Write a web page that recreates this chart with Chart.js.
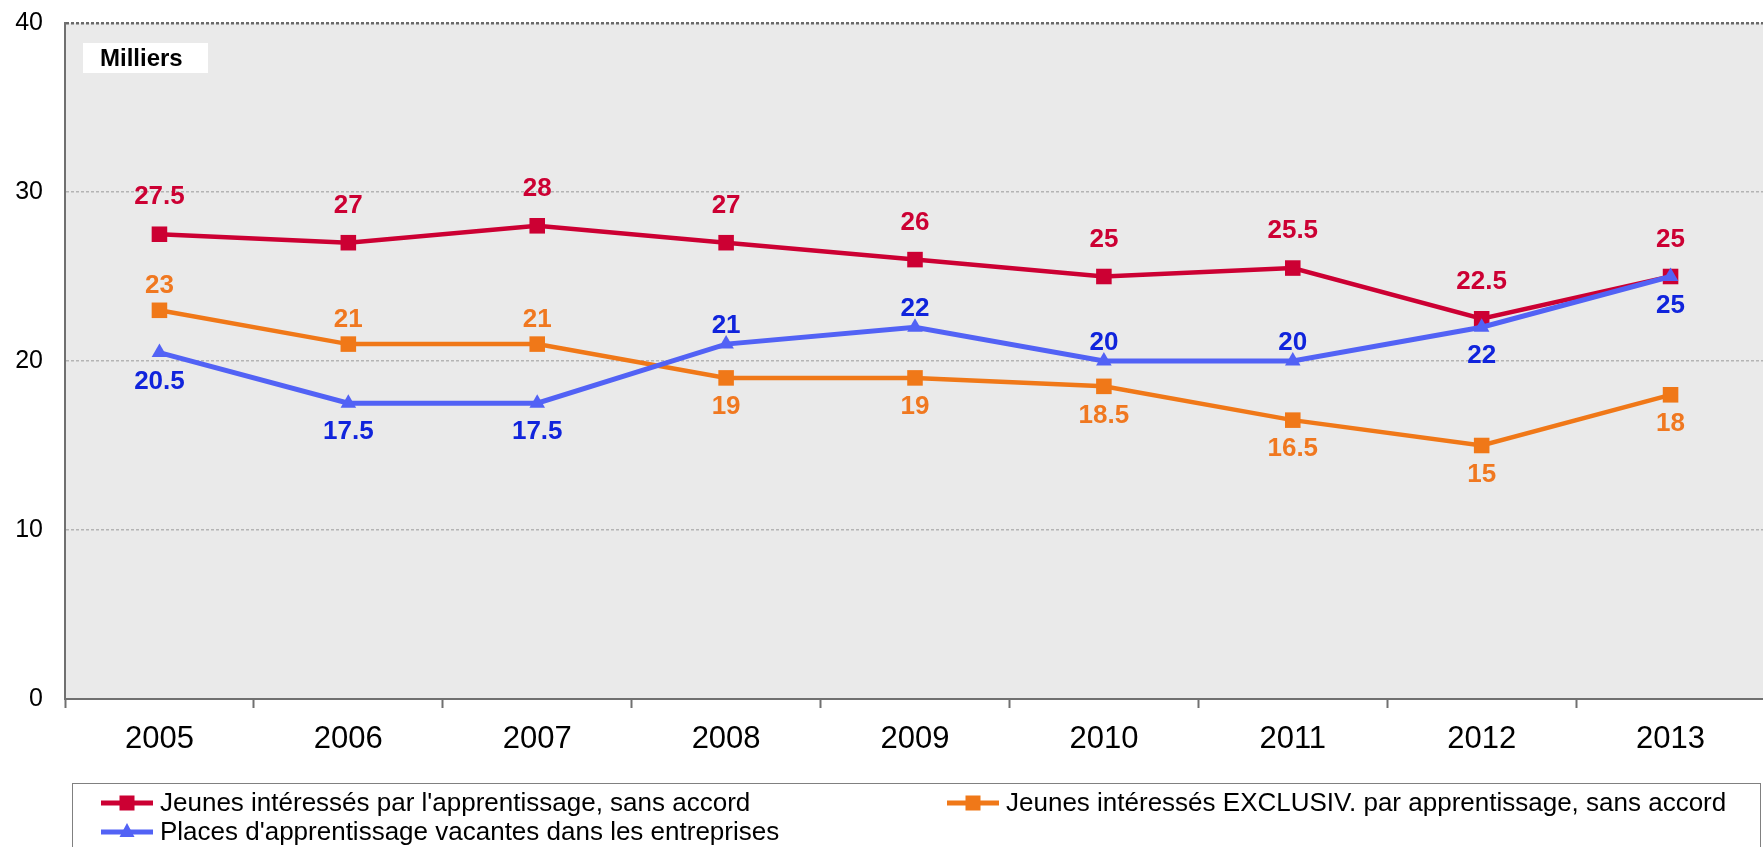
<!DOCTYPE html>
<html>
<head>
<meta charset="utf-8">
<script src="https://cdn.jsdelivr.net/npm/chart.js@4/dist/chart.umd.min.js"></script>
<style>
  html, body { margin: 0; padding: 0; background: #ffffff; width: 1763px; height: 847px; overflow: hidden; }
  #wrap { width: 1776px; height: 847px; }
</style>
</head>
<body>
<div id="wrap"><canvas id="c" width="1776" height="847"></canvas></div>
<script>
// ---- data ----
const years = ['2005', '2006', '2007', '2008', '2009', '2010', '2011', '2012', '2013'];
const jeunesSansAccord = [27.5, 27, 28, 27, 26, 25, 25.5, 22.5, 25];
const jeunesExclusivSansAccord = [23, 21, 21, 19, 19, 18.5, 16.5, 15, 18];
const placesVacantes = [20.5, 17.5, 17.5, 21, 22, 20, 20, 22, 25];
const yTicks = [0, 10, 20, 30, 40];
const unitLabel = 'Milliers';
const seriesNames = [
  "Jeunes intéressés par l'apprentissage, sans accord",
  "Jeunes intéressés EXCLUSIV. par apprentissage, sans accord",
  "Places d'apprentissage vacantes dans les entreprises"
];
// label placement (above / below the point)
const redPlace = ['a','a','a','a','a','a','a','a','a'];
const orangePlace = ['a','a','a','b','b','b','b','b','b'];
const bluePlace = ['b','b','b','a','a','a','a','b','b'];

const FONT = '"Liberation Sans", Arial, sans-serif';
const RED = '#CC0033', ORANGE = '#F07818', BLUE = '#5262F5';
const RED_T = '#CC0033', ORANGE_T = '#F07820', BLUE_T = '#1024DC';

const bgPlugin = {
  id: 'bg',
  beforeDraw(chart) {
    const {ctx, chartArea: a} = chart;
    ctx.save();
    ctx.fillStyle = '#EAEAEA';
    ctx.fillRect(a.left, a.top, a.right - a.left, a.bottom - a.top);
    ctx.restore();
  }
};

const labelPlugin = {
  id: 'vlabels',
  afterDatasetsDraw(chart) {
    const {ctx} = chart;
    ctx.save();
    ctx.font = 'bold 26px ' + FONT;
    ctx.textAlign = 'center';
    ctx.textBaseline = 'middle';
    chart.data.datasets.forEach((ds, di) => {
      const meta = chart.getDatasetMeta(di);
      meta.data.forEach((pt, i) => {
        const above = ds.place[i] === 'a';
        const off = above ? ds.offAbove : ds.offBelow;
        const y = above ? pt.y - off : pt.y + off;
        ctx.fillStyle = ds.textColor;
        ctx.fillText(String(ds.data[i]), pt.x, y);
      });
    });
    ctx.restore();
  }
};

const decoPlugin = {
  id: 'deco',
  afterDraw(chart) {
    const {ctx} = chart;
    ctx.save();
    // Milliers box
    ctx.fillStyle = '#ffffff';
    ctx.fillRect(83, 43, 125, 30);
    ctx.fillStyle = '#000000';
    ctx.font = 'bold 24px ' + FONT;
    ctx.textAlign = 'left';
    ctx.textBaseline = 'middle';
    ctx.fillText(unitLabel, 100, 59);

    // legend box
    ctx.strokeStyle = '#808080';
    ctx.lineWidth = 1;
    ctx.strokeRect(72.5, 783.5, 1688, 100);

    const items = [
      {ds: 0, x: 101, y: 803},
      {ds: 1, x: 947, y: 803},
      {ds: 2, x: 101, y: 832}
    ];
    items.forEach(it => {
      const ds = chart.data.datasets[it.ds];
      ctx.strokeStyle = ds.borderColor;
      ctx.lineWidth = 5;
      ctx.beginPath();
      ctx.moveTo(it.x, it.y);
      ctx.lineTo(it.x + 52, it.y);
      ctx.stroke();
      ctx.fillStyle = ds.borderColor;
      const cx = it.x + 26;
      if (ds.pointStyle === 'triangle') {
        ctx.beginPath();
        ctx.moveTo(cx, it.y - 9);
        ctx.lineTo(cx + 7.5, it.y + 5);
        ctx.lineTo(cx - 7.5, it.y + 5);
        ctx.closePath();
        ctx.fill();
      } else {
        ctx.fillRect(cx - 7.5, it.y - 7.5, 15, 15);
      }
      ctx.fillStyle = '#000000';
      ctx.font = '26px ' + FONT;
      ctx.textAlign = 'left';
      ctx.textBaseline = 'middle';
      ctx.fillText(ds.label, it.x + 59, it.y + 1);
    });
    ctx.restore();
  }
};

new Chart(document.getElementById('c'), {
  type: 'line',
  data: {
    labels: years,
    datasets: [
      {
        label: seriesNames[0], data: jeunesSansAccord, borderColor: RED, backgroundColor: RED,
        borderWidth: 4.5, pointStyle: 'rect', pointRadius: 11, pointBorderWidth: 0,
        pointBackgroundColor: RED, textColor: RED_T, place: redPlace, offAbove: 37, offBelow: 30, order: 1
      },
      {
        label: seriesNames[1], data: jeunesExclusivSansAccord, borderColor: ORANGE, backgroundColor: ORANGE,
        borderWidth: 4.5, pointStyle: 'rect', pointRadius: 11, pointBorderWidth: 0,
        pointBackgroundColor: ORANGE, textColor: ORANGE_T, place: orangePlace, offAbove: 24, offBelow: 29, order: 2
      },
      {
        label: seriesNames[2], data: placesVacantes, borderColor: BLUE, backgroundColor: BLUE,
        borderWidth: 5, pointStyle: 'triangle', pointRadius: 9, pointBorderWidth: 0,
        pointBackgroundColor: BLUE, textColor: BLUE_T, place: bluePlace, offAbove: 18, offBelow: 29, order: 0
      }
    ]
  },
  options: {
    responsive: false,
    devicePixelRatio: 1,
    animation: false,
    layout: { padding: { top: 23, left: 0, right: 1, bottom: 0 } },
    plugins: { legend: { display: false }, tooltip: { enabled: false }, title: { display: false } },
    scales: {
      x: {
        type: 'category',
        offset: true,
        afterFit(scale) { scale.height = 148; scale.paddingLeft = 0; scale.paddingRight = 0; },
        grid: { offset: true, drawOnChartArea: false, drawTicks: true, tickLength: 9, tickColor: '#707070', tickWidth: 2, color: '#707070' },
        border: { display: true, color: '#707070', width: 2 },
        ticks: { font: { family: FONT, size: 31 }, color: '#000000', padding: 13, maxRotation: 0, autoSkip: false }
      },
      y: {
        min: 0, max: 40,
        afterFit(scale) { scale.width = 65; scale.paddingTop = 0; scale.paddingBottom = 0; },
        afterBuildTicks(scale) { scale.ticks = yTicks.map(v => ({ value: v })); },
        grid: {
          drawTicks: false,
          color: ctx => ctx.tick.value === 0 ? 'rgba(0,0,0,0)' : (ctx.tick.value === 40 ? '#6a6a6a' : '#b4b4b4'),
          lineWidth: ctx => ctx.tick.value === 40 ? 2.5 : 1.5
        },
        border: { display: true, color: '#707070', width: 2, dash: [3, 2] },
        ticks: { font: { family: FONT, size: 25 }, color: '#000000', padding: 22 }
      }
    }
  },
  plugins: [bgPlugin, labelPlugin, decoPlugin]
});
</script>
</body>
</html>
